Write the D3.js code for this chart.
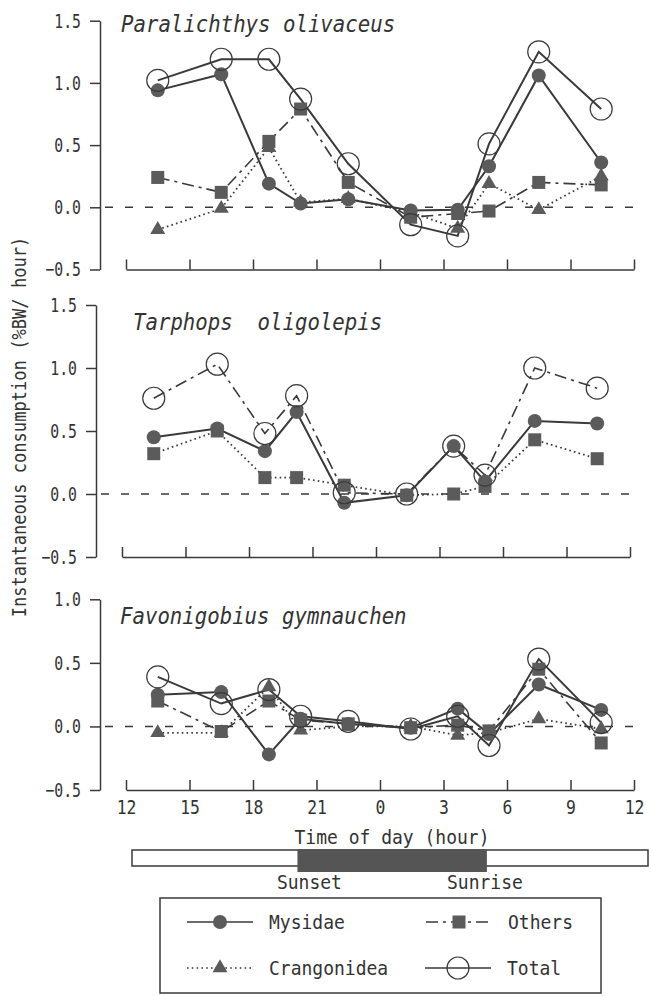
<!DOCTYPE html>
<html>
<head>
<meta charset="utf-8">
<script src="https://cdn.jsdelivr.net/npm/d3@7"></script>
<style>
  html, body { margin: 0; padding: 0; background: #fff; }
  svg { display: block; }
  text { font-family: "DejaVu Sans Mono", "Liberation Mono", monospace; fill: #333; white-space: pre; }
</style>
</head>
<body>
<svg id="chart" width="651" height="996"></svg>
<script>
// Sampling times (clock hour) and axis labels
const sampleHours = [13.5, 16.5, 18.75, 20.25, 22.5, 1.45, 3.67, 5.15, 7.5, 10.45];
const xTickLabels = ["12", "15", "18", "21", "0", "3", "6", "9", "12"];
const sunsetHour = 20.1;
const sunriseHour = 5.05;

const speciesNames = ["Paralichthys olivaceus", "Tarphops  oligolepis", "Favonigobius gymnauchen"];
const preyGroups = ["Mysidae", "Others", "Crangonidea", "Total"];

// Instantaneous consumption (%BW / hour)
const paralichthysMysidae     = [0.94, 1.07, 0.19, 0.03, 0.065, -0.025, -0.02, 0.33, 1.06, 0.36];
const paralichthysOthers      = [0.24, 0.12, 0.53, 0.79, 0.20, -0.08, -0.05, -0.03, 0.20, 0.18];
const paralichthysCrangonidea = [-0.18, -0.01, 0.48, 0.04, 0.07, -0.04, -0.17, 0.19, -0.02, 0.25];
const paralichthysTotal       = [1.02, 1.19, 1.19, 0.87, 0.35, -0.14, -0.23, 0.51, 1.25, 0.79];

const tarphopsMysidae     = [0.45, 0.52, 0.34, 0.65, -0.07, -0.01, 0.38, 0.10, 0.58, 0.56];
const tarphopsOthers      = [0.32, 0.50, 0.13, 0.13, 0.07, -0.01, 0.0, 0.06, 0.43, 0.28];
const tarphopsCrangonidea = [null, null, null, null, null, null, null, null, null, null];
const tarphopsTotal       = [0.76, 1.03, 0.48, 0.78, 0.01, 0.0, 0.38, 0.15, 1.0, 0.84];

const favonigobiusMysidae     = [0.25, 0.27, -0.22, 0.06, 0.02, -0.01, 0.14, -0.06, 0.33, 0.13];
const favonigobiusOthers      = [0.20, -0.04, 0.20, 0.05, 0.02, -0.01, 0.01, -0.035, 0.45, -0.13];
const favonigobiusCrangonidea = [-0.05, -0.05, 0.31, -0.03, 0.0, 0.0, -0.07, -0.05, 0.06, -0.02];
const favonigobiusTotal       = [0.39, 0.18, 0.29, 0.08, 0.04, -0.02, 0.08, -0.15, 0.53, 0.03];

const INK = "#3a3a3a";
const FILL = "#5b5b5b";
const DASH = { solid: null, dashdot: "12,5,3,5", dotted: "1.6,3.2" };

const elapsed = h => (h - 12 + 24) % 24;   // hours since noon

const panels = [
  { name: speciesNames[0],
    values: [paralichthysMysidae, paralichthysOthers, paralichthysCrangonidea, paralichthysTotal],
    styles: ["solid", "dashdot", "dotted", "solid"],
    yTop: 1.5, yRange: [269.5, 20.7], dx: 0, titlePos: [121, 32], xLabels: false },
  { name: speciesNames[1],
    values: [tarphopsMysidae, tarphopsOthers, tarphopsCrangonidea, tarphopsTotal],
    styles: ["solid", "dotted", "dotted", "dashdot"],
    yTop: 1.5, yRange: [557, 305], dx: -4, titlePos: [137, 330], xLabels: false },
  { name: speciesNames[2],
    values: [favonigobiusMysidae, favonigobiusOthers, favonigobiusCrangonidea, favonigobiusTotal],
    styles: ["solid", "dashdot", "dotted", "solid"],
    yTop: 1.0, yRange: [790, 599.3], dx: 0, titlePos: [120, 624], xLabels: true }
];

const svg = d3.select("#chart");

// squeeze glyphs horizontally to get a narrow gothic look
function condense(sel, s) {
  sel.each(function () {
    const t = d3.select(this);
    const x = +t.attr("x") || 0;
    t.attr("x", x / s).attr("transform", `scale(${s},1)`);
  });
}

const markerPath = {
  Mysidae: d3.symbol(d3.symbolCircle, Math.PI * 7 * 7)(),
  Others: d3.symbol(d3.symbolSquare, 13 * 13)(),
  Crangonidea: d3.symbol(d3.symbolTriangle, 15 * 15 * Math.sqrt(3) / 4)(),
  Total: d3.symbol(d3.symbolCircle, Math.PI * 11 * 11)()
};

function drawMarker(g, group, x, y) {
  const p = g.append("path").attr("d", markerPath[group])
    .attr("transform", `translate(${x},${y})`);
  if (group === "Total") p.attr("fill", "none").attr("stroke", INK).attr("stroke-width", 1.2);
  else p.attr("fill", FILL).attr("stroke", "none");
  return p;
}

function lineStyle(sel, style) {
  sel.attr("fill", "none").attr("stroke", INK)
     .attr("stroke-width", style === "solid" ? 2 : (style === "dotted" ? 1.8 : 1.6))
     .attr("stroke-dasharray", DASH[style]);
}

panels.forEach(p => {
  const g = svg.append("g").attr("transform", `translate(${p.dx},0)`);
  const x = d3.scaleLinear().domain([0, 24]).range([126, 634]);
  const y = d3.scaleLinear().domain([-0.5, p.yTop]).range(p.yRange);
  const axisX = 100;

  // y axis
  const yAxis = g.append("g").attr("transform", `translate(${axisX},0)`)
    .call(d3.axisLeft(y).tickValues(d3.range(-0.5, p.yTop + 0.01, 0.5))
      .tickFormat(d3.format(".1f")).tickSize(10).tickSizeOuter(0).tickPadding(9));
  yAxis.select(".domain").attr("stroke", INK).attr("stroke-width", 1.5);
  yAxis.selectAll(".tick line").attr("stroke", INK).attr("stroke-width", 1.5);
  yAxis.selectAll(".tick text").attr("font-size", 20).attr("fill", "#333")
    .attr("font-family", "DejaVu Sans Mono").call(condense, 0.74);

  // x axis, ticks pointing up
  const xAxis = g.append("g").attr("transform", `translate(0,${y(-0.5)})`)
    .call(d3.axisBottom(x).tickValues(d3.range(0, 25, 3))
      .tickFormat((d, i) => p.xLabels ? xTickLabels[i] : "")
      .tickSize(-10).tickSizeOuter(0).tickPadding(10));
  xAxis.select(".domain").attr("stroke", INK).attr("stroke-width", 1.5);
  xAxis.selectAll(".tick line").attr("stroke", INK).attr("stroke-width", 1.5);
  xAxis.selectAll(".tick text").attr("font-size", 20).attr("fill", "#333")
    .attr("font-family", "DejaVu Sans Mono").call(condense, 0.82);

  // zero reference line
  g.append("line").attr("x1", axisX + 5).attr("x2", 643)
    .attr("y1", y(0)).attr("y2", y(0))
    .attr("stroke", INK).attr("stroke-width", 1.6).attr("stroke-dasharray", "8,12");

  // title
  g.append("text")
    .attr("transform", `translate(${p.titlePos[0]},${p.titlePos[1]}) scale(0.9,1)`)
    .attr("font-size", 23).attr("font-style", "italic").attr("fill", "#333")
    .attr("xml:space", "preserve")
    .text(p.name);

  // series: draw lines first, then markers
  const order = [1, 2, 0, 3];
  order.forEach(k => {
    const pts = sampleHours.map((h, i) => ({ t: elapsed(h), v: p.values[k][i] }));
    const line = d3.line().defined(d => d.v != null).x(d => x(d.t)).y(d => y(d.v));
    g.append("path").datum(pts).attr("d", line).call(lineStyle, p.styles[k]);
  });
  order.forEach(k => {
    sampleHours.forEach((h, i) => {
      const v = p.values[k][i];
      if (v == null) return;
      drawMarker(g, preyGroups[k], x(elapsed(h)), y(v));
    });
  });
});

// y-axis title
svg.append("text")
  .attr("transform", "translate(26,427) rotate(-90) scale(0.9,1)")
  .attr("text-anchor", "middle").attr("font-size", 19).attr("fill", "#333")
  .text("Instantaneous consumption (%BW/ hour)");

// x-axis title
svg.append("text")
  .attr("transform", "translate(392,844) scale(0.9,1)")
  .attr("text-anchor", "middle").attr("font-size", 20).attr("fill", "#333")
  .text("Time of day (hour)");

// day / night bar
const xb = d3.scaleLinear().domain([0, 24]).range([126, 634]);
svg.append("rect").attr("x", 132).attr("y", 850).attr("width", 516).attr("height", 16)
  .attr("fill", "#fff").attr("stroke", INK).attr("stroke-width", 1.5);
svg.append("rect").attr("x", xb(elapsed(sunsetHour))).attr("y", 849)
  .attr("width", xb(elapsed(sunriseHour)) - xb(elapsed(sunsetHour))).attr("height", 23)
  .attr("fill", "#555");
svg.append("text")
  .attr("transform", `translate(${xb(elapsed(sunsetHour)) + 12},889) scale(0.9,1)`)
  .attr("text-anchor", "middle").attr("font-size", 20).attr("fill", "#333").text("Sunset");
svg.append("text")
  .attr("transform", `translate(${xb(elapsed(sunriseHour)) - 2},889) scale(0.9,1)`)
  .attr("text-anchor", "middle").attr("font-size", 20).attr("fill", "#333").text("Sunrise");

// legend
svg.append("rect").attr("x", 160).attr("y", 898).attr("width", 441).attr("height", 95)
  .attr("fill", "#fff").attr("stroke", INK).attr("stroke-width", 1.5);
const legendItems = [
  { group: "Mysidae", style: "solid", x: 187, y: 922 },
  { group: "Others", style: "dashdot", x: 426, y: 922 },
  { group: "Crangonidea", style: "dotted", x: 187, y: 968 },
  { group: "Total", style: "solid", x: 425, y: 968 }
];
legendItems.forEach(it => {
  svg.append("line").attr("x1", it.x).attr("x2", it.x + 66)
    .attr("y1", it.y).attr("y2", it.y)
    .call(lineStyle, it.style)
    .attr("stroke-width", 1.6);
  drawMarker(svg, it.group, it.x + 33, it.y);
  svg.append("text")
    .attr("transform", `translate(${it.x + 82},${it.y + 7}) scale(0.9,1)`)
    .attr("font-size", 20).attr("fill", "#333").text(it.group);
});
</script>
</body>
</html>
